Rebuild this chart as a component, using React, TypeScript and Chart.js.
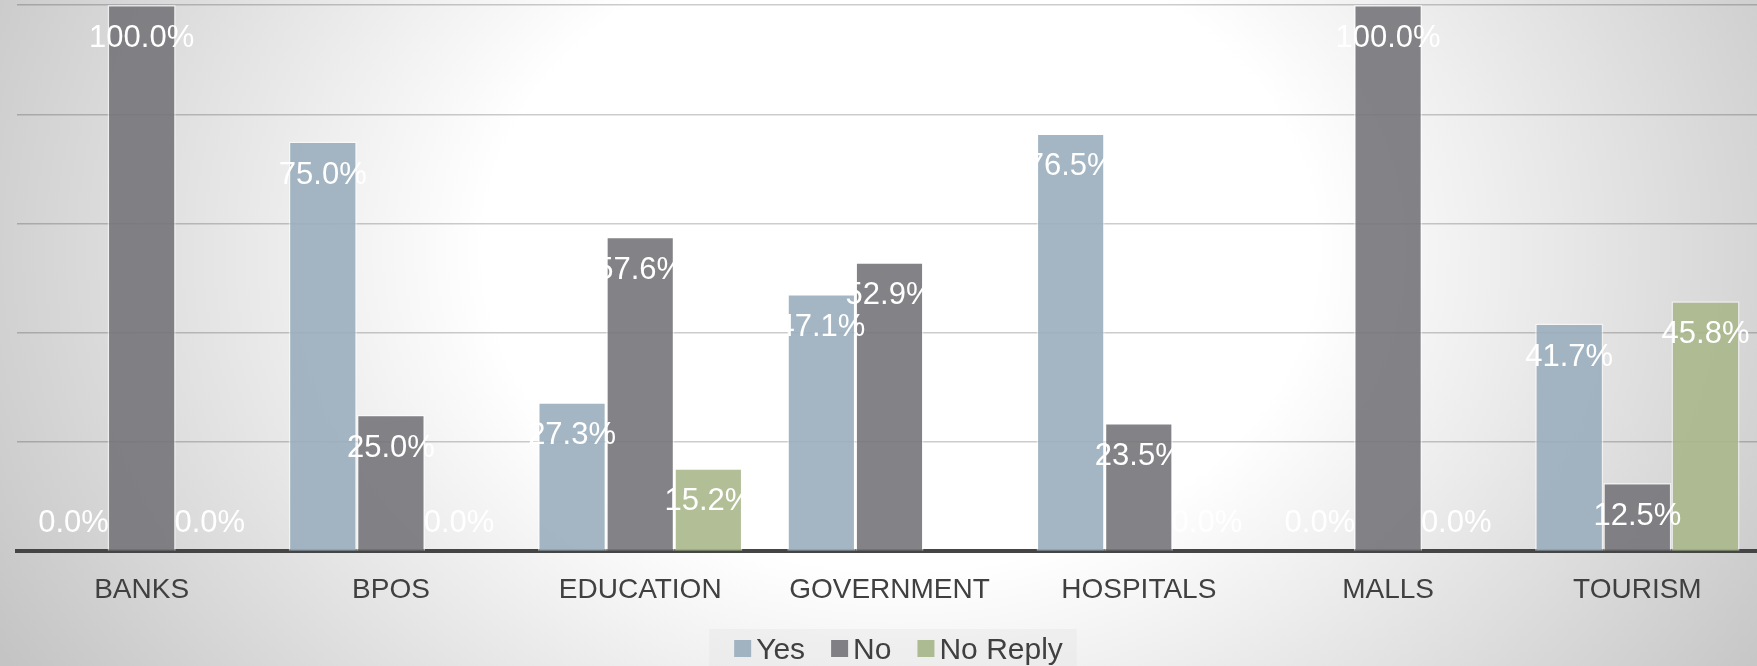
import React, { useEffect, useRef } from "react";
import { Chart, registerables } from "chart.js";

Chart.register(...registerables);

const categories = ["BANKS", "BPOS", "EDUCATION", "GOVERNMENT", "HOSPITALS", "MALLS", "TOURISM"];
const yesValues: (number | null)[] = [0, 75.0, 27.3, 47.1, 76.5, 0, 41.7];
const noValues: (number | null)[] = [100.0, 25.0, 57.6, 52.9, 23.5, 100.0, 12.5];
const noReplyValues: (number | null)[] = [0, 0, 15.2, null, 0, 0, 45.8];
const seriesNames = ["Yes", "No", "No Reply"];
const seriesColors = ["rgba(154,174,189,0.9)", "rgba(118,117,122,0.9)", "rgba(168,183,139,0.9)"];
const legendColors = ["#A1B3C0", "#807F84", "#ADBB93"];

const FONT = "'Liberation Sans', Arial, sans-serif";

const backgroundPlugin = {
  id: "bgGradient",
  beforeDraw(chart: any) {
    const { ctx, width, height } = chart;
    ctx.save();
    const cx = 900, cy = 250, sx = 1.3;
    ctx.translate(cx, cy);
    ctx.scale(sx, 1);
    const g = ctx.createRadialGradient(0, 0, 0, 0, 0, 800);
    g.addColorStop(0, "#ffffff");
    g.addColorStop(0.4, "#ffffff");
    g.addColorStop(1, "#c4c4c4");
    ctx.fillStyle = g;
    ctx.fillRect(-cx / sx - 10, -cy - 10, width / sx + 40, height + 40);
    ctx.restore();
  },
};

const valueLabelPlugin = {
  id: "valueLabels",
  afterDatasetsDraw(chart: any) {
    const { ctx } = chart;
    ctx.save();
    ctx.font = `31px ${FONT}`;
    ctx.fillStyle = "#ffffff";
    ctx.textAlign = "center";
    ctx.textBaseline = "alphabetic";
    chart.data.datasets.forEach((ds: any, di: number) => {
      const meta = chart.getDatasetMeta(di);
      meta.data.forEach((el: any, i: number) => {
        const v = ds.data[i];
        if (v === null || v === undefined) return;
        const baseY = el.base;
        const y = Math.min(el.y + 42, baseY - 19);
        ctx.fillText(`${v.toFixed(1)}%`, el.x, y);
      });
    });
    ctx.restore();
  },
};

const legendPlugin = {
  id: "customLegend",
  afterDraw(chart: any) {
    const { ctx, chartArea } = chart;
    ctx.save();
    ctx.font = `30px ${FONT}`;
    const sq = 17, gapText = 5, gapItem = 26;
    const widths = seriesNames.map((n) => ctx.measureText(n).width);
    const total = widths.reduce((a, w) => a + sq + gapText + w, 0) + gapItem * (seriesNames.length - 1);
    const center = (chartArea.left + chartArea.right) / 2;
    let x = center - total / 2 + 9;
    const boxTop = 629;
    ctx.fillStyle = "rgba(225,225,225,0.35)";
    ctx.fillRect(x - 25, boxTop, total + 39, 40);
    const baseline = 659;
    seriesNames.forEach((name, i) => {
      ctx.fillStyle = legendColors[i];
      ctx.fillRect(x, 640, sq, sq);
      ctx.fillStyle = "#404040";
      ctx.textAlign = "left";
      ctx.textBaseline = "alphabetic";
      ctx.fillText(name, x + sq + gapText, baseline);
      x += sq + gapText + widths[i] + gapItem;
    });
    ctx.restore();
  },
};

export default function App() {
  const canvasRef = useRef<HTMLCanvasElement | null>(null);

  useEffect(() => {
    const canvas = canvasRef.current;
    if (!canvas) return;
    const data = [yesValues, noValues, noReplyValues];
    const chart = new Chart(canvas, {
      type: "bar",
      data: {
        labels: categories,
        datasets: seriesNames.map((name, i) => ({
          label: name,
          data: data[i],
          backgroundColor: seriesColors[i],
          borderColor: "rgba(255,255,255,0.55)",
          borderWidth: 1.5,
          categoryPercentage: 0.82,
          barPercentage: 1.0,
        })),
      },
      options: {
        responsive: false,
        animation: false,
        devicePixelRatio: 1,
        layout: { padding: { left: 17, right: 3, top: 5, bottom: 45 } },
        plugins: {
          legend: { display: false },
          tooltip: { enabled: false },
        },
        scales: {
          x: {
            grid: { display: false },
            border: { display: true, color: "#454545", width: 4 },
            ticks: {
              color: "#404040",
              font: { family: FONT, size: 28 },
              padding: 14,
            },
          },
          y: {
            min: 0,
            max: 100,
            ticks: { display: false, stepSize: 20 },
            grid: { color: "rgba(0,0,0,0.2)", lineWidth: 1.5, drawTicks: false },
            border: { display: false },
          },
        },
      },
      plugins: [backgroundPlugin, valueLabelPlugin, legendPlugin],
    });
    return () => chart.destroy();
  }, []);

  return (
    <div style={{ position: "fixed", left: 0, top: 0, width: 1757, height: 666, overflow: "hidden" }}>
      <canvas ref={canvasRef} width={1765} height={666} style={{ display: "block", width: 1765, height: 666 }} />
    </div>
  );
}
